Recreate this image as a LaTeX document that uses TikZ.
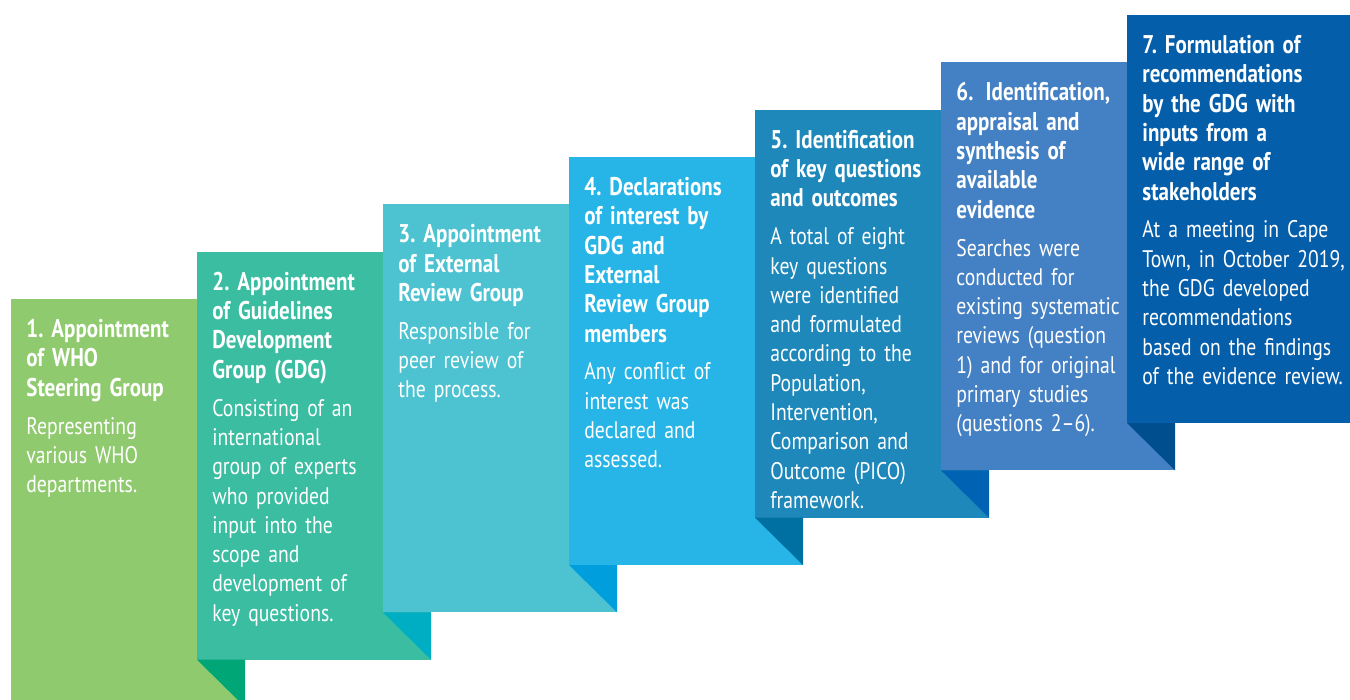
\documentclass[tikz,border=0pt]{standalone}
\usepackage{fontspec}
\setmainfont[FakeStretch=0.82,WordSpace=0.8]{PT Sans}
\frenchspacing
\definecolor{S1}{RGB}{143,202,110}
\definecolor{S2}{RGB}{58,189,161}
\definecolor{S3}{RGB}{77,195,210}
\definecolor{S4}{RGB}{38,181,230}
\definecolor{S5}{RGB}{30,136,186}
\definecolor{S6}{RGB}{68,128,196}
\definecolor{S7}{RGB}{5,94,170}
\definecolor{F2}{RGB}{0,166,118}
\definecolor{F3}{RGB}{0,174,196}
\definecolor{F4}{RGB}{0,158,220}
\definecolor{F5}{RGB}{0,112,162}
\definecolor{F6}{RGB}{0,98,178}
\definecolor{F7}{RGB}{0,78,142}
\tikzset{steptext/.style={anchor=north west, inner sep=0pt, text width=112pt,
  align=left, text=white, font=\fontsize{12}{14.65}\selectfont\frenchspacing}}
\newcommand{\steptitle}[1]{{\fontsize{12.8}{14.65}\selectfont\bfseries #1}}
\begin{document}
\begin{tikzpicture}[x=0.5pt,y=-0.5pt]
  \useasboundingbox (0,0) rectangle (1350,700);
  \begin{scope}
    \clip (0,0) rectangle (1350,700);

    % Paso 1
    \fill[S1] (11,299) rectangle (245,707);
    \node[steptext] (p1) at (26,319) {\steptitle{1. Appointment\\ of WHO\\ Steering Group}\\[4.3pt]
      Representing\\ various WHO\\ departments.};

    % Paso 2 (con su pliegue sobre el paso 1)
    \fill[S2] (197,251.7) rectangle (431,659.7);
    \fill[F2] (197,659.7) -- (245,659.7) -- (245,707) -- cycle;
    \node[steptext] (p2) at (212,271.7) {\steptitle{2. Appointment\\ of Guidelines\\ Development\\ Group (GDG)}\\[4.3pt]
      Consisting of an\\ international\\ group of experts\\ who provided\\ input into the\\ scope and\\ development of\\ key questions.};

    % Paso 3
    \fill[S3] (383,204.3) rectangle (617,612.3);
    \fill[F3] (383,612.3) -- (431,612.3) -- (431,659.7) -- cycle;
    \node[steptext] (p3) at (398,224.3) {\steptitle{3. Appointment\\ of External\\ Review Group}\\[4.3pt]
      Responsible for\\ peer review of\\ the process.};

    % Paso 4
    \fill[S4] (569,157) rectangle (803,565);
    \fill[F4] (569,565) -- (617,565) -- (617,612.3) -- cycle;
    \node[steptext] (p4) at (584,177) {\steptitle{4. Declarations\\ of interest by\\ GDG and\\ External\\ Review Group\\ members}\\[4.3pt]
      Any conflict of\\ interest was\\ declared and\\ assessed.};

    % Paso 5
    \fill[S5] (755,109.7) rectangle (989,517.7);
    \fill[F5] (755,517.7) -- (803,517.7) -- (803,565) -- cycle;
    \node[steptext] (p5) at (770,129.7) {\steptitle{5. Identification\\ of key questions\\ and outcomes}\\[4.3pt]
      A total of eight\\ key questions\\ were identified\\ and formulated\\ according to the\\ Population,\\ Intervention,\\ Comparison and\\ Outcome (PICO)\\ framework.};

    % Paso 6
    \fill[S6] (941,62.3) rectangle (1175,470.3);
    \fill[F6] (941,470.3) -- (989,470.3) -- (989,517.7) -- cycle;
    \node[steptext] (p6) at (956,82.3) {\steptitle{6. \,Identification,\\ appraisal and\\ synthesis of\\ available\\ evidence}\\[4.3pt]
      Searches were\\ conducted for\\ existing systematic\\ reviews (question\\ 1) and for original\\ primary studies\\ (questions 2--6).};

    % Paso 7
    \fill[S7] (1127,15) rectangle (1361,423);
    \fill[F7] (1127,423) -- (1175,423) -- (1175,470.3) -- cycle;
    \node[steptext] (p7) at (1142,35) {\steptitle{7. Formulation of\\ recommendations\\ by the GDG with\\ inputs from a\\ wide range of\\ stakeholders}\\[4.3pt]
      At a meeting in Cape\\ Town, in October 2019,\\ the GDG developed\\ recommendations\\ based on the findings\\ of the evidence review.};
  \end{scope}
\end{tikzpicture}
\end{document}
